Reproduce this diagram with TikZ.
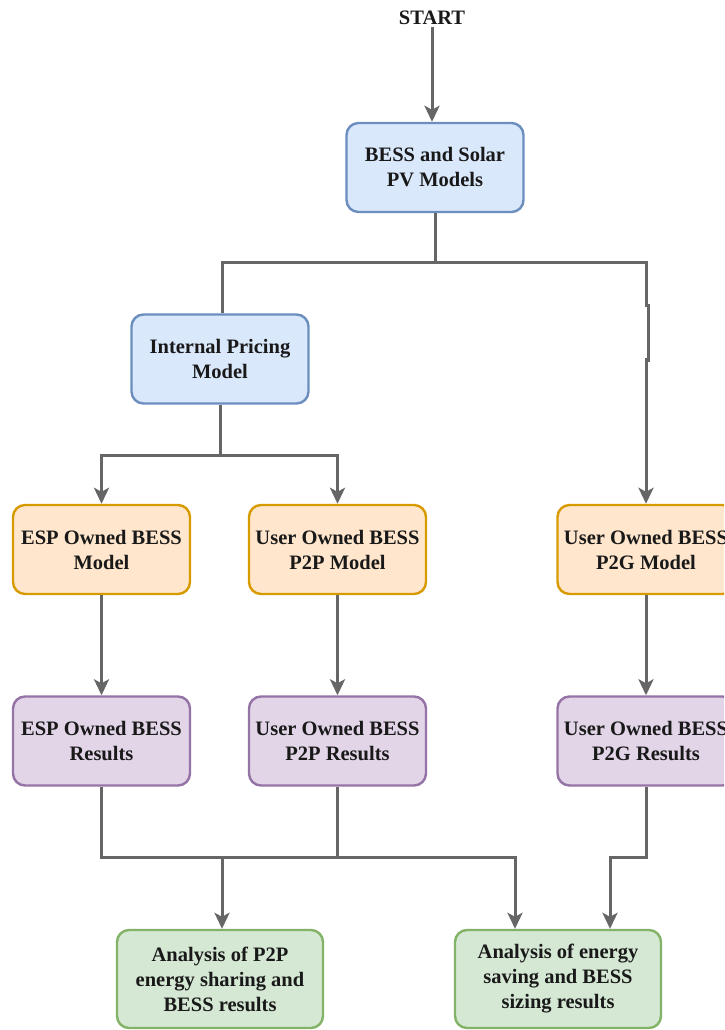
\documentclass[tikz,border=0pt]{standalone}
\usepackage{fontspec}
\setmainfont{Liberation Serif}
\newfontfamily\tnr{Liberation Serif}
\usetikzlibrary{arrows.meta}
\definecolor{bluef}{HTML}{DAE8FC}\definecolor{blued}{HTML}{6C8EBF}
\definecolor{orangef}{HTML}{FFE6CC}\definecolor{oranged}{HTML}{D79B00}
\definecolor{purplef}{HTML}{E1D5E7}\definecolor{purpled}{HTML}{9673A6}
\definecolor{greenf}{HTML}{D5E8D4}\definecolor{greend}{HTML}{82B366}
\definecolor{lin}{HTML}{666666}
\tikzset{
  lbl/.style={text=black!90, font=\tnr\bfseries\fontsize{20.5}{25}\selectfont},
  box/.style={lbl, rounded corners=12pt, line width=2.4pt, minimum width=177pt, minimum height=89pt,
    align=center, inner sep=1pt},
  bluebox/.style={box, fill=bluef, draw=blued},
  orangebox/.style={box, fill=orangef, draw=oranged},
  purplebox/.style={box, fill=purplef, draw=purpled},
  greenbox/.style={box, fill=greenf, draw=greend, minimum width=206pt, minimum height=98pt},
  ln/.style={draw=lin, line width=3pt},
  arr/.style={ln, -{Stealth[length=16pt,width=15pt,inset=4pt]}},
}
\begin{document}
\begin{tikzpicture}[x=1pt,y=-1pt]
\useasboundingbox (0,0) rectangle (724,1030);
\clip (0,0) rectangle (724,1030);
\node[lbl, inner sep=2pt] (start) at (432,18) {START};
\node[bluebox] (bess) at (435,167.5) {BESS and Solar\\PV Models};
\node[bluebox] (ipm) at (220,359) {Internal Pricing\\Model};
\node[orangebox] (espm) at (101.5,549.5) {ESP Owned BESS\\Model};
\node[orangebox] (p2pm) at (337.5,549.5) {User Owned BESS\\P2P Model};
\node[orangebox] (p2gm) at (646,549.5) {User Owned BESS\\P2G Model};
\node[purplebox] (espr) at (101.5,741) {ESP Owned BESS\\Results};
\node[purplebox] (p2pr) at (337.5,741) {User Owned BESS\\P2P Results};
\node[purplebox] (p2gr) at (646,741) {User Owned BESS\\P2G Results};
\node[greenbox] (an1) at (220,979) {Analysis of P2P\\energy sharing and\\BESS results};
\node[greenbox] (an2) at (558,979) {Analysis of energy\\saving and BESS\\sizing results};
% top
\draw[arr] (start.south) -- (start.south |- bess.north);
\coordinate (j1) at (435,262);
\coordinate (jl) at (222,262);
\coordinate (jr) at (646,262);
\draw[ln] (bess.south) -- (j1);
\draw[ln, line join=miter] (jl |- ipm.north) -- (jl) -- (jr) -- ++(0,43) -- ++(2,0) -- ++(0,55) -- ++(-2,0);
\draw[arr] (646,358) -- (p2gm.north);
% internal pricing split
\coordinate (j2) at (220,455);
\draw[ln] (ipm.south) -- (j2);
\draw[arr] (j2) -| (espm.north);
\draw[arr] (j2) -| (p2pm.north);
% model to results
\draw[arr] (espm.south) -- (espr.north);
\draw[arr] (p2pm.south) -- (p2pr.north);
\draw[arr] (p2gm.south) -- (p2gr.north);
% bottom merge
\coordinate (b1) at (101.5,857);
\coordinate (b2) at (337.5,857);
\coordinate (c1) at (222,857);
\coordinate (c2) at (515,857);
\coordinate (r1) at (646,857);
\coordinate (r2) at (610,857);
\draw[ln, line join=miter] (espr.south) -- (b1) -- (c2);
\draw[ln] (p2pr.south) -- (b2);
\draw[arr] (c1) -- (c1 |- an1.north);
\draw[arr, line join=miter] (b2) -| (c2 |- an2.north);
\draw[arr, line join=miter] (p2gr.south) -- (r1) -- (r2) -- (r2 |- an2.north);
\end{tikzpicture}
\end{document}
